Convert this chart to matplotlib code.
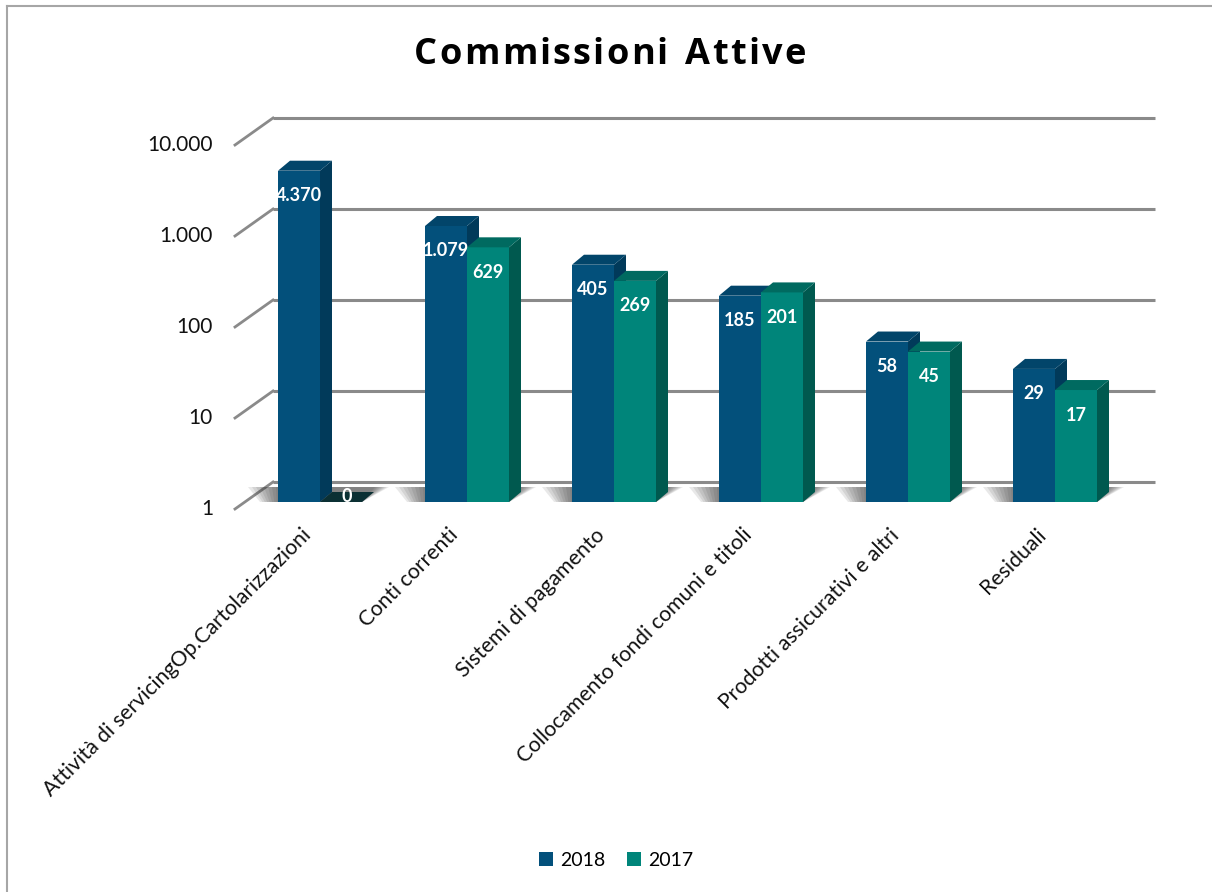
import numpy as np
import matplotlib
matplotlib.use('Agg')
import matplotlib.pyplot as plt
from matplotlib.patches import Polygon, Patch
from matplotlib.lines import Line2D

categorie = ['Attività di servicingOp.Cartolarizzazioni', 'Conti correnti',
             'Sistemi di pagamento', 'Collocamento fondi comuni e titoli',
             'Prodotti assicurativi e altri', 'Residuali']
v2018 = [4370, 1079, 405, 185, 58, 29]
v2017 = [0, 629, 269, 201, 45, 17]
lab2018 = ['4.370', '1.079', '405', '185', '58', '29']
lab2017 = ['0', '629', '269', '201', '45', '17']
ticks = [1, 10, 100, 1000, 10000]
ticklab = ['1', '10', '100', '1.000', '10.000']
titolo = 'Commissioni Attive'

plt.rcParams['font.family'] = ['Lato', 'DejaVu Sans']

W, H = 1212, 892
fig = plt.figure(figsize=(W/100, H/100), dpi=100)
fig.patch.set_facecolor('white')

# axes = plane of the bar front faces (pixel layout from the reference)
L, R, B, T = 243, 1125, 502, 138
step = 147.0
dec = (B - T) / 4.0
ax = fig.add_axes([L/W, (H-B)/H, (R-L)/W, (B-T)/H])
ax.set_yscale('log')
ax.set_ylim(1, 10000)
x0l = (L - 320) / step
x1l = (R - 320) / step
ax.set_xlim(x0l, x1l)
ax.axis('off')

def px(dx):
    return dx / step

def up(dy):
    return 10 ** (dy / dec)

grid_c = '#8a8a8a'
# back wall gridlines and the diagonal to the front plane
for t in ticks:
    ax.plot([x0l + px(30), x1l + px(30)], [t*up(20), t*up(20)], color=grid_c, lw=2.2,
            zorder=1, clip_on=False, solid_capstyle='butt')
    ax.plot([x0l - px(8), x0l + px(30)], [t*up(-7), t*up(20)], color=grid_c, lw=2,
            zorder=1, clip_on=False)
for t, s in zip(ticks, ticklab):
    ax.text((213 - 320)/step, t*up(-7), s, ha='right', va='center', fontsize=15,
            color='#111111', clip_on=False)

w = 42 / step
ddx = px(12)
fac = up(10)
xs = np.arange(len(categorie))

colors = {
    '2018': ('#03507b', '#013a5a', '#02456a'),
    '2017': ('#00857a', '#00594f', '#006a60'),
}

# floor shadows
for i in xs:
    a = i - w
    b = i + w
    for k in range(8):
        e = 30 - k*4
        poly = Polygon([(a - px(e*0.6), up(0)), (b, up(0)), (b + ddx + px(e*0.5), up(15)),
                        (a - px(e), up(15))], closed=True, facecolor='#333333',
                       edgecolor='none', alpha=0.11, zorder=2, clip_on=False)
        ax.add_patch(poly)

def bars3d(xleft, vals, key):
    front, side, top = colors[key]
    hv = [max(v, 1) for v in vals]
    ax.bar(xleft, [h - 1 for h in hv], width=w, bottom=1, align='edge', color=front,
           edgecolor='none', zorder=3, clip_on=False)
    for xl, h in zip(xleft, hv):
        xr = xl + w
        ax.add_patch(Polygon([(xr, 1), (xr + ddx, fac), (xr + ddx, h*fac), (xr, h)],
                             closed=True, facecolor=side, edgecolor='none', zorder=3,
                             clip_on=False))
        tc = top if h > 1 else '#0b3034'
        ax.add_patch(Polygon([(xl, h), (xl + ddx, h*fac), (xr + ddx, h*fac), (xr, h)],
                             closed=True, facecolor=tc, edgecolor='none', zorder=3,
                             clip_on=False))

bars3d(xs - w, v2018, '2018')
bars3d(xs, v2017, '2017')

# data labels
for i in xs:
    for xl, v, s in [(i - w, v2018[i], lab2018[i]), (i, v2017[i], lab2017[i])]:
        if v > 1:
            ax.text(xl + w/2, v*up(-25), s, ha='center', va='center', color='white',
                    fontsize=13, fontweight='bold', zorder=5)
        else:
            ax.text(xl + w/2 + ddx/2, up(6), s, ha='center', va='center', color='white',
                    fontsize=13, fontweight='bold', zorder=5)

# category labels
for i, c in zip(xs, categorie):
    ax.text(i - px(12), up(-30), c, rotation=45, rotation_mode='anchor', ha='right',
            va='center', fontsize=15.3, color='#111111', clip_on=False)

# title with letter spacing, drawn glyph by glyph
renderer = fig.canvas.get_renderer()
tkw = dict(fontsize=26, fontweight='bold', family=['Open Sans', 'DejaVu Sans'])
gap = 2.2
widths = []
for ch in titolo:
    tt = fig.text(0, 0, ch if ch != ' ' else 'n', **tkw)
    bb = tt.get_window_extent(renderer)
    widths.append(bb.width * (0.55 if ch == ' ' else 1))
    tt.remove()
total = sum(widths) + gap*(len(titolo) - 1)
xcur = 610 - total/2
for ch, wd in zip(titolo, widths):
    if ch != ' ':
        fig.text(xcur/W, 1 - 55/H, ch, ha='left', va='center', **tkw)
    xcur += wd + gap

handles = [Patch(facecolor='#03507b', label='2018'), Patch(facecolor='#00857a', label='2017')]
fig.legend(handles=handles, loc='center', bbox_to_anchor=(616/W, 1 - 860/H), ncol=2,
           frameon=False, fontsize=14, handlelength=0.75, handleheight=0.75,
           handletextpad=0.35, columnspacing=1.1)

# border of the chart area
fig.add_artist(Line2D([7/W, 7/W], [0, 1 - 6/H], color='#a6a6a6', lw=1.5))
fig.add_artist(Line2D([7/W, 1], [1 - 6/H, 1 - 6/H], color='#a6a6a6', lw=1.5))

fig.savefig('out.png', dpi=100)
